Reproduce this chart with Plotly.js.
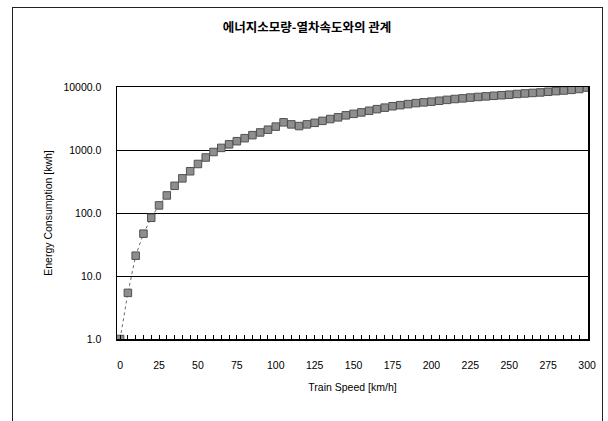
<!DOCTYPE html>
<html>
<head>
<meta charset="utf-8">
<script src="https://cdn.plot.ly/plotly-3.0.1.min.js"></script>
<style>
  html, body { margin: 0; padding: 0; background: #fff; }
  #wrap { position: relative; width: 608px; height: 421px; overflow: hidden; }
  #chart { width: 608px; height: 421px; }
  #frame { position: absolute; left: 12px; top: 7px; width: 591px; height: 430px;
           border: 1px solid #222; pointer-events: none; box-sizing: border-box; }
</style>
</head>
<body>
<div id="wrap">
  <div id="chart"></div>
  <div id="frame"></div>
</div>
<script>
// Train speed [km/h]
const speed = [0,5,10,15,20,25,30,35,40,45,50,55,60,65,70,75,80,85,90,95,
  100,105,110,115,120,125,130,135,140,145,150,155,160,165,170,175,180,185,190,195,
  200,205,210,215,220,225,230,235,240,245,250,255,260,265,270,275,280,285,290,295,300];
// Energy consumption [kwh]
const energy = [1,5.4,21,47,84,132,190,270,355,460,600,760,930,1080,1230,1380,1540,1720,1900,2100,
  2350,2750,2550,2400,2550,2700,2900,3100,3300,3550,3750,3950,4200,4450,4700,4950,5150,5350,5550,5700,
  5850,6050,6250,6450,6600,6800,6950,7100,7250,7400,7550,7750,7900,8050,8200,8400,8600,8800,9000,9300,9800];
const yTickVals = [1,10,100,1000,10000];
const yTickText = ['1.0','10.0','100.0','1000.0','10000.0'];
const xTickVals = [0,25,50,75,100,125,150,175,200,225,250,275,300];

const trace = {
  x: speed, y: energy, type: 'scatter', mode: 'lines+markers',
  line: { color: '#6a6a6a', width: 1, dash: 'dot' },
  marker: { symbol: 'square', size: 7.5, color: '#8e8e8e', line: { color: '#505050', width: 1 } },
  hoverinfo: 'x+y', showlegend: false
};

const layout = {
  width: 608, height: 421,
  margin: { l: 117, r: 20, t: 87, b: 82 },
  paper_bgcolor: '#fff', plot_bgcolor: '#fff',
  font: { family: 'Liberation Sans, Arial, sans-serif', size: 10, color: '#000' },
  title: { text: '<b>에너지소모량-열차속도와의 관계</b>', x: 0.505, xanchor: 'center', y: 0.935, yanchor: 'middle',
           font: { family: 'Noto Sans CJK KR, sans-serif', size: 12.5, color: '#000' } },
  xaxis: {
    range: [-2, 300.6], tickmode: 'array', tickvals: xTickVals,
    ticks: 'inside', ticklen: 4, tickcolor: '#000', tickwidth: 1,
    minor: { dtick: 5, ticks: 'inside', ticklen: 4, tickcolor: '#000', tickwidth: 1, showgrid: false },
    showgrid: false, zeroline: false, showline: true, linecolor: '#000', linewidth: 1.5, mirror: true,
    tickfont: { size: 10.5, color: '#000' }, ticklabelstandoff: 16,
    title: { text: 'Train Speed [km/h]', font: { size: 10.5, color: '#000' }, standoff: 13 }
  },
  yaxis: {
    type: 'log', range: [0, 4], tickmode: 'array', tickvals: yTickVals, ticktext: yTickText,
    ticks: '', showgrid: true, gridcolor: '#000', gridwidth: 1, zeroline: false,
    showline: true, linecolor: '#000', linewidth: 1.5, mirror: true,
    tickfont: { size: 10.5, color: '#000' }, ticklabelstandoff: 12,
    title: { text: 'Energy Consumption [kwh]', font: { size: 10.5, color: '#000' }, standoff: 9 }
  }
};

Plotly.newPlot('chart', [trace], layout, { displayModeBar: false, staticPlot: true });
</script>
</body>
</html>
